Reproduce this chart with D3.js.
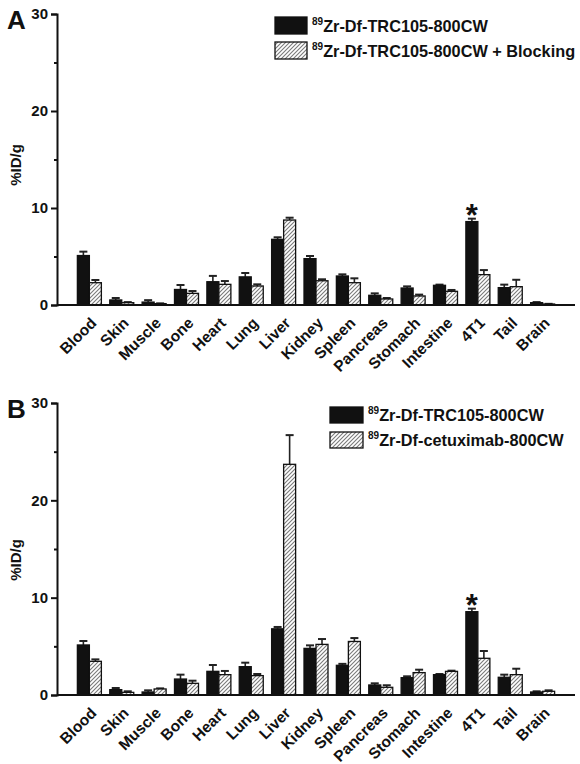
<!DOCTYPE html>
<html><head><meta charset="utf-8">
<script src="https://cdn.jsdelivr.net/npm/d3@7"></script>
<style>
body{margin:0;background:#fff;}
svg{display:block;font-family:"Liberation Sans",Arial,sans-serif;font-weight:bold;}
</style></head>
<body>
<svg id="chart" width="580" height="764"></svg>
<script>
const categories = ["Blood","Skin","Muscle","Bone","Heart","Lung","Liver","Kidney","Spleen","Pancreas","Stomach","Intestine","4T1","Tail","Brain"];
const yTicks = [0,10,20,30];
const yMinorTicks = [5,15,25];

// Panel A
const aSeries1Name = "Zr-Df-TRC105-800CW";
const aSeries2Name = "Zr-Df-TRC105-800CW + Blocking";
const aTrc = [5.1,0.52,0.3,1.6,2.4,2.9,6.77,4.78,2.99,1.0,1.75,2.03,8.6,1.79,0.24];
const aTrcErr = [0.4,0.2,0.2,0.46,0.6,0.4,0.21,0.27,0.17,0.2,0.17,0.07,0.3,0.31,0.06];
const aBlock = [2.3,0.24,0.14,1.2,2.13,1.96,8.76,2.5,2.3,0.62,0.93,1.41,3.13,1.89,0.1];
const aBlockErr = [0.28,0.06,0.03,0.24,0.34,0.17,0.24,0.15,0.45,0.1,0.14,0.14,0.47,0.71,0.02];

// Panel B
const bSeries1Name = "Zr-Df-TRC105-800CW";
const bSeries2Name = "Zr-Df-cetuximab-800CW";
const bTrc = [5.14,0.55,0.31,1.64,2.43,2.91,6.8,4.79,3.05,1.03,1.78,2.09,8.56,1.82,0.31];
const bTrcErr = [0.41,0.17,0.17,0.45,0.65,0.41,0.19,0.31,0.15,0.17,0.14,0.07,0.31,0.27,0.07];
const bCetux = [3.46,0.27,0.62,1.2,2.09,1.99,23.7,5.2,5.5,0.79,2.3,2.43,3.77,2.09,0.38];
const bCetuxErr = [0.2,0.11,0.06,0.27,0.38,0.17,3.0,0.55,0.35,0.21,0.3,0.07,0.75,0.61,0.1];

const svg = d3.select("#chart");
const defs = svg.append("defs");
const pat = defs.append("pattern").attr("id","hatch").attr("patternUnits","userSpaceOnUse")
  .attr("width",4).attr("height",4);
pat.append("rect").attr("width",4).attr("height",4).attr("fill","#fff");
pat.append("path").attr("d","M-1,1 l2,-2 M0,4 l4,-4 M3,5 l2,-2")
  .attr("stroke","#7a7a7a").attr("stroke-width",1.1);

const x = d3.scaleLinear().domain([0,16]).range([57,575]);
const barW = 12;

function drawPanel(opt){
  const y = d3.scaleLinear().domain([0,30]).range([opt.y0, opt.y30]);
  const g = svg.append("g");

  const s1 = opt.v1.map((v,i)=>({v, e:opt.e1[i], i}));
  const s2 = opt.v2.map((v,i)=>({v, e:opt.e2[i], i}));

  function drawSeries(data, off, fill){
    g.selectAll(null).data(data).enter().append("line")
      .attr("x1",d=>x(d.i+1)+off+barW/2).attr("x2",d=>x(d.i+1)+off+barW/2)
      .attr("y1",d=>y(d.v)).attr("y2",d=>y(d.v+d.e))
      .attr("stroke","#222").attr("stroke-width",1.6);
    g.selectAll(null).data(data).enter().append("line")
      .attr("x1",d=>x(d.i+1)+off+barW/2-4).attr("x2",d=>x(d.i+1)+off+barW/2+4)
      .attr("y1",d=>y(d.v+d.e)).attr("y2",d=>y(d.v+d.e))
      .attr("stroke","#222").attr("stroke-width",2);
    g.selectAll(null).data(data).enter().append("rect")
      .attr("x",d=>x(d.i+1)+off).attr("width",barW)
      .attr("y",d=>y(d.v)).attr("height",d=>y(0)-y(d.v))
      .attr("fill",fill).attr("stroke","#111").attr("stroke-width",1.3);
  }
  drawSeries(s1,-barW,"#111");
  drawSeries(s2,0,"url(#hatch)");

  g.append("line").attr("x1",x(0)).attr("x2",x(16)).attr("y1",y(0)).attr("y2",y(0))
    .attr("stroke","#111").attr("stroke-width",2);

  const yAxis = d3.axisLeft(y).tickValues(yTicks).tickSize(6).tickPadding(3).tickFormat(d3.format("d"));
  const ya = g.append("g").attr("transform",`translate(${x(0)},0)`).call(yAxis);
  ya.select(".domain").attr("stroke","#111").attr("stroke-width",2);
  ya.selectAll(".tick line").attr("stroke","#111").attr("stroke-width",2);
  ya.selectAll(".tick text").attr("font-size",15).attr("font-weight","bold")
    .attr("font-family","Liberation Sans, Arial, sans-serif").attr("fill","#111");
  const yMinor = d3.axisLeft(y).tickValues(yMinorTicks).tickSize(3).tickFormat("");
  const ym = g.append("g").attr("transform",`translate(${x(0)},0)`).call(yMinor);
  ym.select(".domain").remove();
  ym.selectAll(".tick line").attr("stroke","#111").attr("stroke-width",2);

  g.selectAll(null).data(categories).enter().append("text")
    .attr("transform",(d,i)=>`translate(${x(i+1)+8},${y(0)+19}) rotate(-45)`)
    .attr("text-anchor","end").attr("font-size",15.5).attr("fill","#111").text(d=>d);

  g.append("text").attr("transform",`translate(${opt.ylabX},${opt.ylabY}) rotate(-90)`)
    .attr("text-anchor","middle").attr("font-size",15).attr("fill","#111").text("%ID/g");

  g.append("text").attr("x",7).attr("y",opt.letterY).attr("font-size",26).attr("fill","#111").text(opt.letter);

  g.append("text").attr("x",x(13)-barW/2).attr("y",y(opt.v1[12]+opt.e1[12])+7)
    .attr("text-anchor","middle").attr("font-size",31).attr("fill","#111").text("*");

  const L = opt.legend;
  [[opt.n1,"#111"],[opt.n2,"url(#hatch)"]].forEach((it,k)=>{
    const by = L.y + k*L.dy;
    g.append("rect").attr("x",L.x).attr("y",by).attr("width",L.w).attr("height",L.h)
      .attr("fill",it[1]).attr("stroke","#111").attr("stroke-width",1.3);
    const t = g.append("text").attr("x",L.x+L.w+5).attr("y",by+L.h-2).attr("font-size",16.3).attr("fill","#111");
    t.append("tspan").attr("font-size",10).attr("dy",-7).text("89");
    t.append("tspan").attr("dy",7).text(it[0]);
  });
}

drawPanel({y0:305, y30:14, v1:aTrc, e1:aTrcErr, v2:aBlock, e2:aBlockErr, n1:aSeries1Name, n2:aSeries2Name,
  letter:"A", letterY:29, ylabX:21, ylabY:165, legend:{x:275,y:17,w:32,h:17,dy:25}});
drawPanel({y0:695, y30:403, v1:bTrc, e1:bTrcErr, v2:bCetux, e2:bCetuxErr, n1:bSeries1Name, n2:bSeries2Name,
  letter:"B", letterY:418, ylabX:21, ylabY:560, legend:{x:330,y:407,w:33,h:16,dy:25}});
</script>
</body></html>
